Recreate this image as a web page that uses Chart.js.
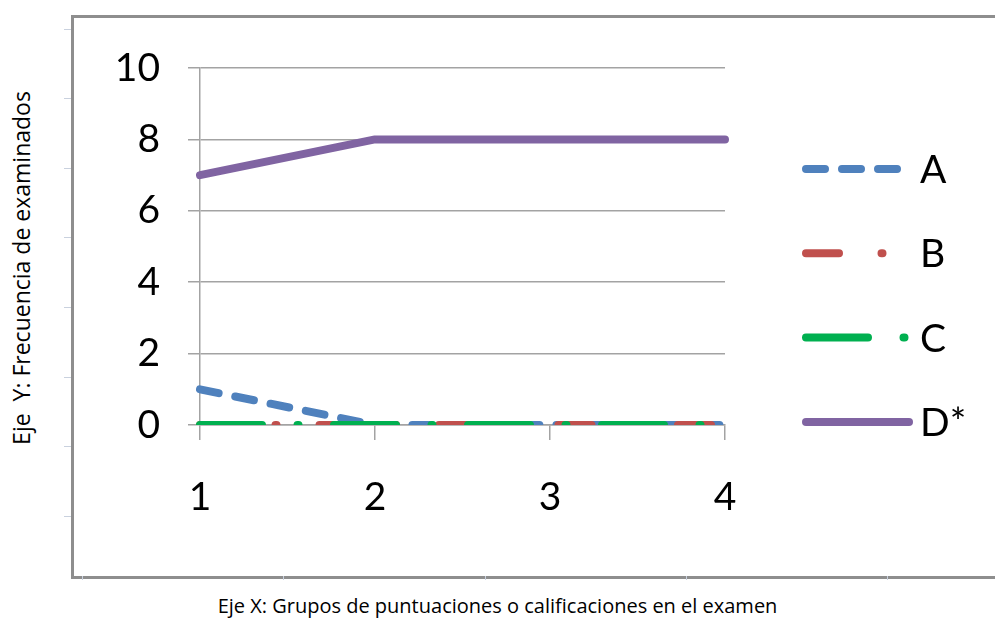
<!DOCTYPE html>
<html>
<head>
<meta charset="utf-8">
<script src="https://cdn.jsdelivr.net/npm/chart.js@4"></script>
<style>
  html, body { margin: 0; padding: 0; background: #fff; }
  #wrap { position: relative; width: 995px; height: 620px; overflow: hidden; }
  /* marco exterior (gráfico que contiene la imagen) */
  #frame { position: absolute; left: 71px; top: 15px; width: 1000px; height: 558px;
    border: 3px solid #8e8e8e; border-right: none; box-sizing: content-box; }
  #ticksY { position: absolute; left: 64px; top: -40px; width: 7px; height: 570px;
    background: repeating-linear-gradient(to bottom, transparent 0, transparent 68.6px, #c9d1de 68.6px, #c9d1de 69.6px); }
  #ticksX { position: absolute; left: 82px; top: 576px; width: 913px; height: 4px;
    background: repeating-linear-gradient(to right, #c9d1de 0, #c9d1de 1px, transparent 1px, transparent 201.3px); }
  #titleX { position: absolute; left: 0; width: 995px; top: 592px; text-align: center;
    font: 20px "Open Sans", sans-serif; color: #000; white-space: pre; }
  #titleY { position: absolute; left: 21px; top: 268px; transform: translate(-50%, -50%) rotate(-90deg);
    font: 23px "Open Sans", sans-serif; color: #000; white-space: pre; }
  canvas { position: absolute; left: 0; top: 0; }
</style>
</head>
<body>
<div id="wrap">
  <div id="frame"></div>
  <div id="ticksY"></div>
  <div id="ticksX"></div>
  <div id="titleY">Eje  Y: Frecuencia de examinados</div>
  <div id="titleX">Eje X: Grupos de puntuaciones o calificaciones en el examen</div>
  <canvas id="chart" width="995" height="620"></canvas>
</div>
<script>
// datos
const grupos = ['1', '2', '3', '4'];
const serieA = [1, 0, 0, 0];
const serieB = [0, 0, 0, 0];
const serieC = [0, 0, 0, 0];
const serieD = [7, 8, 8, 8];
const nombres = ['A', 'B', 'C', 'D*'];
const colores = ['#4f81bd', '#c0504d', '#00b050', '#8064a2'];
const trazos = [[19, 17], [33, 42.5, 1, 43], [62, 35.5, 1, 35.5], []];
const yMin = 0, yMax = 10, yPaso = 2;

const gris = '#a3a3a3';
const fuente = { family: 'Lato, "Open Sans", sans-serif', size: 39 };

// leyenda a mano: muestras de línea con el mismo trazo que cada serie
const leyenda = {
  id: 'leyendaLineas',
  afterDraw(chart) {
    const { ctx } = chart;
    const o = { x: 806, len: 103, y: 169, paso: 84.3 };
    ctx.save();
    chart.data.datasets.forEach((ds, i) => {
      const y = o.y + i * o.paso;
      ctx.beginPath();
      ctx.strokeStyle = ds.borderColor;
      ctx.lineWidth = ds.borderWidth;
      ctx.lineCap = 'round';
      ctx.setLineDash(ds.borderDash || []);
      ctx.moveTo(o.x, y);
      ctx.lineTo(o.x + o.len, y);
      ctx.stroke();
      ctx.setLineDash([]);
      ctx.fillStyle = '#000';
      ctx.font = `${fuente.size}px ${fuente.family}`;
      ctx.textBaseline = 'alphabetic';
      ctx.textAlign = 'left';
      ctx.fillText(ds.label, 920, y + 14);
    });
    ctx.restore();
  },
};

const series = [serieA, serieB, serieC, serieD];
new Chart(document.getElementById('chart'), {
  type: 'line',
  data: {
    labels: grupos,
    datasets: series.map((d, i) => ({
      label: nombres[i],
      data: d,
      borderColor: colores[i],
      backgroundColor: colores[i],
      borderWidth: 8,
      borderDash: trazos[i],
      borderCapStyle: 'round',
      borderJoinStyle: 'round',
      pointRadius: 0,
      tension: 0,
      fill: false,
      order: series.length - i, // la última serie queda encima, como en Excel
    })),
  },
  options: {
    responsive: false,
    animation: false,
    layout: { padding: { left: 0, top: 68, right: 270, bottom: 0 } },
    plugins: { legend: { display: false }, tooltip: { enabled: false } },
    scales: {
      x: {
        offset: false,
        grid: { drawOnChartArea: false, drawTicks: true, tickLength: 15, color: gris, lineWidth: 1.5 },
        border: { display: true, color: gris, width: 1.5 },
        ticks: { font: fuente, color: '#000', padding: 34, maxRotation: 0 },
        afterFit(s) { s.height = 195; },
      },
      y: {
        min: yMin, max: yMax,
        grid: { color: gris, lineWidth: 1.5, tickLength: 12 },
        border: { display: true, color: gris, width: 1.5 },
        ticks: { stepSize: yPaso, font: fuente, color: '#000', padding: 28 },
        afterFit(s) { s.width = 200; },
      },
    },
  },
  plugins: [leyenda],
});
</script>
</body>
</html>
